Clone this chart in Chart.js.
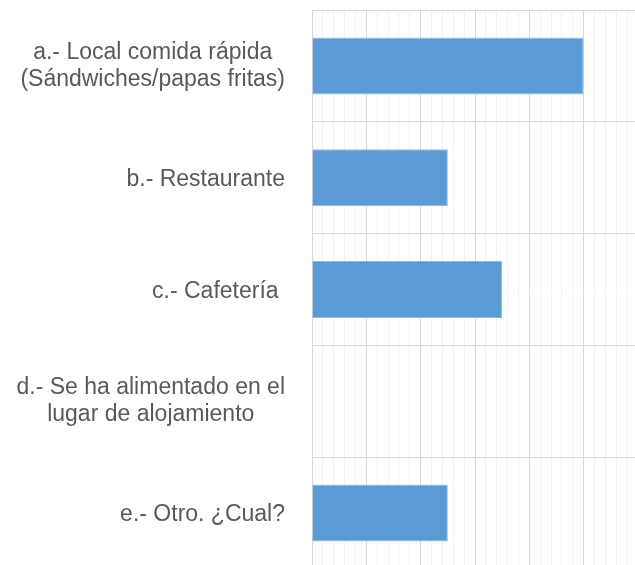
<!DOCTYPE html>
<html lang="es">
<head>
    <meta charset="UTF-8">
    <title>Lugar de alimentación</title>
    <script src="https://cdn.jsdelivr.net/npm/chart.js"></script>
    <style>
        html, body { margin: 0; padding: 0; background: #fff; overflow: hidden; }
        #wrap { position: relative; width: 700px; height: 600px; }
    </style>
</head>
<body>
    <div id="wrap">
        <canvas id="lugarChart" width="700" height="600"></canvas>
    </div>
    <script>
        // Datos del gráfico
        const categorias = [
            ['a.- Local comida rápida', '(Sándwiches/papas fritas)'],
            ['b.- Restaurante'],
            ['c.- Cafetería '],
            ['d.- Se ha alimentado en el', 'lugar de alojamiento'],
            ['e.- Otro. ¿Cual?']
        ];
        const valores = [50, 25, 35, 0, 25];
        const ejeMax = 60;
        const pasoMenor = 2;
        const pasoMayor = 10;

        const FUENTE = '23px "Liberation Sans", Arial, sans-serif';

        // Etiquetas del eje: bloque alineado a la derecha, líneas centradas dentro del bloque
        const etiquetasPlugin = {
            id: 'etiquetas',
            afterDraw(chart) {
                const ctx = chart.ctx;
                const y = chart.scales.y;
                const derecha = y.right - 27;
                const alto = 27;
                ctx.save();
                ctx.font = FUENTE;
                ctx.fillStyle = '#595959';
                ctx.textAlign = 'center';
                ctx.textBaseline = 'middle';
                categorias.forEach((lineas, i) => {
                    const ancho = Math.max(...lineas.map(l => ctx.measureText(l).width));
                    const cx = derecha - ancho / 2;
                    const cy = y.getPixelForValue(i) + (lineas.length > 1 ? 0 : 2);
                    lineas.forEach((l, j) => {
                        ctx.fillText(l, cx, cy + (j - (lineas.length - 1) / 2) * alto);
                    });
                });
                ctx.restore();
            }
        };

        const ctx = document.getElementById('lugarChart').getContext('2d');
        new Chart(ctx, {
            type: 'bar',
            data: {
                labels: categorias,
                datasets: [{
                    data: valores,
                    backgroundColor: '#5b9bd5',
                    borderColor: '#8fbbe4',
                    borderWidth: 1,
                    categoryPercentage: 1,
                    barPercentage: 0.51
                }]
            },
            options: {
                indexAxis: 'y',
                responsive: false,
                animation: false,
                layout: { padding: { top: 10, right: 62, bottom: 31, left: 0 } },
                plugins: {
                    legend: { display: false },
                    tooltip: { enabled: false }
                },
                scales: {
                    x: {
                        min: 0,
                        max: ejeMax,
                        ticks: { display: false, stepSize: pasoMenor },
                        border: { display: false },
                        grid: {
                            drawTicks: false,
                            color: c => (Math.abs(c.tick.value % pasoMayor) < 1e-6 ? '#d9d9d9' : '#f2f2f2')
                        }
                    },
                    y: {
                        ticks: { display: false },
                        afterFit: s => { s.width = 312; },
                        border: { color: '#d9d9d9' },
                        grid: { offset: true, drawTicks: false, color: '#d9d9d9' }
                    }
                }
            },
            plugins: [etiquetasPlugin]
        });
    </script>
</body>
</html>
